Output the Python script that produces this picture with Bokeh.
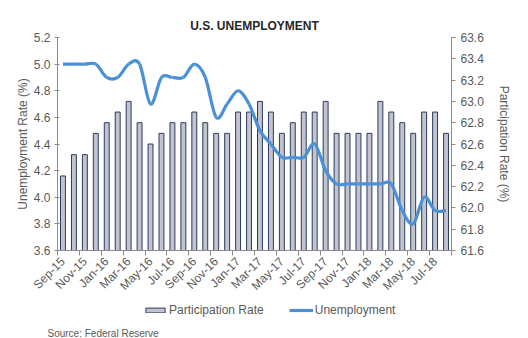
import math
import numpy as np
from bokeh.plotting import figure
from bokeh.layouts import column
from bokeh.models import (Range1d, LinearAxis, FixedTicker, Legend, LegendItem,
                          Title, NumeralTickFormatter)
from bokeh.embed import file_html
from bokeh.resources import INLINE

months = ["Sep-15", "Oct-15", "Nov-15", "Dec-15", "Jan-16", "Feb-16", "Mar-16", "Apr-16",
          "May-16", "Jun-16", "Jul-16", "Aug-16", "Sep-16", "Oct-16", "Nov-16", "Dec-16",
          "Jan-17", "Feb-17", "Mar-17", "Apr-17", "May-17", "Jun-17", "Jul-17", "Aug-17",
          "Sep-17", "Oct-17", "Nov-17", "Dec-17", "Jan-18", "Feb-18", "Mar-18", "Apr-18",
          "May-18", "Jun-18", "Jul-18", "Aug-18"]
participation = [62.3, 62.5, 62.5, 62.7, 62.8, 62.9, 63.0, 62.8, 62.6, 62.7, 62.8, 62.8,
                 62.9, 62.8, 62.7, 62.7, 62.9, 62.9, 63.0, 62.9, 62.7, 62.8, 62.9, 62.9,
                 63.0, 62.7, 62.7, 62.7, 62.7, 63.0, 62.9, 62.8, 62.7, 62.9, 62.9, 62.7]
unemployment = [5.0, 5.0, 5.0, 5.0, 4.9, 4.9, 5.0, 5.0, 4.7, 4.9, 4.9, 4.9,
                5.0, 4.9, 4.6, 4.7, 4.8, 4.7, 4.5, 4.4, 4.3, 4.3, 4.3, 4.4,
                4.2, 4.1, 4.1, 4.1, 4.1, 4.1, 4.1, 3.9, 3.8, 4.0, 3.9, 3.9]
unemp_ticks = [3.6, 3.8, 4.0, 4.2, 4.4, 4.6, 4.8, 5.0, 5.2]
part_ticks = [61.6, 61.8, 62.0, 62.2, 62.4, 62.6, 62.8, 63.0, 63.2, 63.4, 63.6]

FONT = "Liberation Sans"
TXT = "#595959"
AXC = "#8c8c8c"
BAR_FILL = "#c2c4cb"
BAR_LINE = "#2c3b66"
LINE_COL = "#4a90d9"

n = len(months)
x = np.arange(n, dtype=float)
u = np.array(unemployment)

p = figure(width=528, height=300, output_backend="svg", toolbar_location=None,
           x_range=Range1d(-0.5, n - 0.5),
           y_range=Range1d(unemp_ticks[0], unemp_ticks[-1]),
           min_border_left=57, min_border_right=77, min_border_top=37,
           min_border_bottom=44)
p.extra_y_ranges = {"part": Range1d(part_ticks[0], part_ticks[-1])}
p.outline_line_color = None
p.xgrid.visible = False
p.ygrid.visible = False

p.vbar(x=x, top=participation, bottom=part_ticks[0], width=0.45,
       y_range_name="part", fill_color=BAR_FILL, line_color=BAR_LINE, line_width=1)

# smoothed line (Catmull-Rom segments drawn with Bokeh's bezier glyph)
xp = np.concatenate([[x[0]], x[:-2]])
xn = np.concatenate([x[2:], [x[-1]]])
up = np.concatenate([[u[0]], u[:-2]])
un = np.concatenate([u[2:], [u[-1]]])
x0, x1, y0, y1 = x[:-1], x[1:], u[:-1], u[1:]
p.bezier(x0=x0, y0=y0, x1=x1, y1=y1,
         cx0=x0 + (x1 - xp) / 6, cy0=y0 + (y1 - up) / 6,
         cx1=x1 - (xn - x0) / 6, cy1=y1 - (un - y0) / 6,
         line_color=LINE_COL, line_width=3.2)

def style_axis(ax):
    ax.axis_line_color = AXC
    ax.major_tick_line_color = AXC
    ax.minor_tick_line_color = AXC
    ax.major_label_text_color = TXT
    ax.major_label_text_font = FONT
    ax.major_label_text_font_size = "12px"
    ax.axis_label_text_color = TXT
    ax.axis_label_text_font = FONT
    ax.axis_label_text_font_size = "12px"
    ax.axis_label_text_font_style = "normal"

ly = p.yaxis[0]
ly.ticker = FixedTicker(ticks=unemp_ticks)
ly.formatter = NumeralTickFormatter(format="0.0")
ly.axis_label = "Unemployment Rate (%)"
ly.major_tick_in = 2
ly.major_tick_out = 3
ly.minor_tick_out = 0
ly.minor_tick_in = 0
ly.major_label_standoff = 4
ly.axis_label_standoff = 1
style_axis(ly)

ry = LinearAxis(y_range_name="part", ticker=FixedTicker(ticks=part_ticks),
                formatter=NumeralTickFormatter(format="0.0"),
                axis_label="Participation Rate (%)")
ry.major_tick_in = 0
ry.major_tick_out = 4
ry.minor_tick_out = 0
ry.minor_tick_in = 0
ry.major_label_standoff = 5
ry.axis_label_standoff = 10
style_axis(ry)
p.add_layout(ry, "right")

xa = p.xaxis[0]
xa.ticker = FixedTicker(ticks=list(x[::2]), minor_ticks=list(x[::2] - 0.5) + [n - 0.5])
xa.major_label_overrides = {float(i): months[i] for i in range(0, n, 2)}
xa.major_label_orientation = math.pi / 4
xa.major_tick_out = 0
xa.major_tick_in = 0
xa.minor_tick_out = 5
xa.minor_tick_in = 0
xa.major_label_standoff = 4
style_axis(xa)

p.title.text = "U.S. UNEMPLOYMENT"
p.title.align = "center"
p.title.text_font = FONT
p.title.text_font_size = "12px"
p.title.text_font_style = "bold"
p.title.text_color = "#262626"

# legend + source strip under the chart
q = figure(width=528, height=38, output_backend="svg", toolbar_location=None,
           x_range=Range1d(0, 1), y_range=Range1d(0, 1),
           x_axis_location=None, y_axis_location=None, min_border=0)
q.outline_line_color = None
q.xgrid.visible = False
q.ygrid.visible = False
sw_bar = q.vbar(x=x, top=participation, width=0.5, fill_color=BAR_FILL,
                line_color=BAR_LINE, line_width=1, visible=False)
sw_line = q.line(x=x, y=unemployment, line_color=LINE_COL, line_width=3.2,
                 visible=False)
legend = Legend(items=[LegendItem(label="Participation Rate", renderers=[sw_bar]),
                       LegendItem(label="Unemployment", renderers=[sw_line])],
                orientation="horizontal", location=(86, 8),
                border_line_color=None, background_fill_alpha=0,
                inactive_fill_alpha=0,
                label_text_font=FONT, label_text_font_size="12px",
                label_text_color=TXT, glyph_width=24, glyph_height=6,
                label_height=14, label_standoff=2, spacing=25, padding=0, margin=0)
q.add_layout(legend)
q.add_layout(Title(text="Source: Federal Reserve", align="left", offset=-10,
                   standoff=0, text_font=FONT, text_font_size="10px",
                   text_font_style="normal", text_color=TXT), "below")

open("out.html", "w").write(file_html(column(p, q), INLINE))
